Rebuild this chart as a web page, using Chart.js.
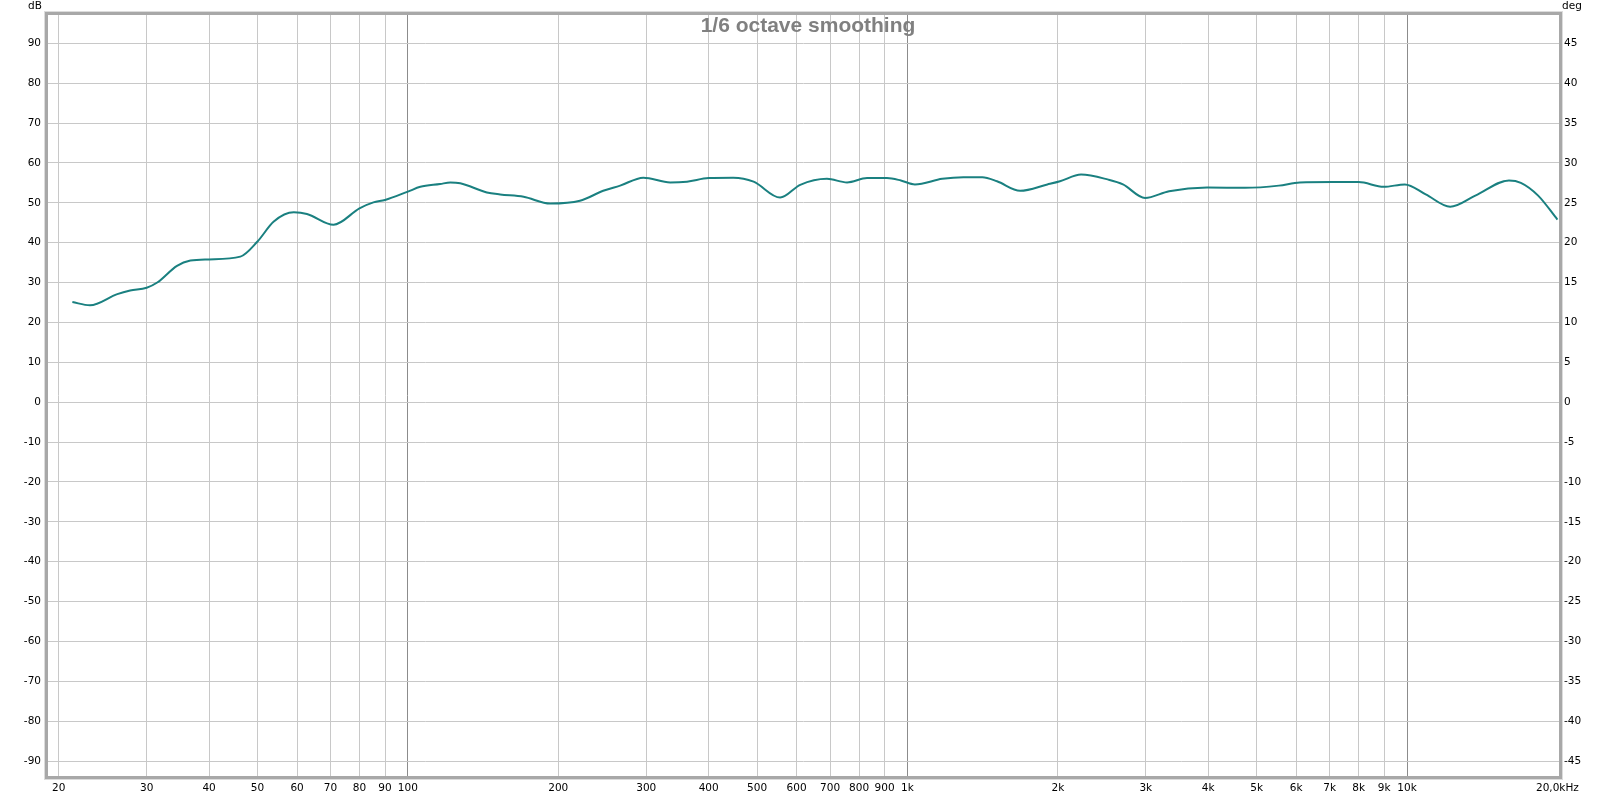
<!DOCTYPE html>
<html>
<head>
<meta charset="utf-8">
<script src="https://cdn.jsdelivr.net/npm/chart.js@4.4.1/dist/chart.umd.min.js"></script>
<style>
html,body{margin:0;padding:0;background:#fff;}
#wrap{width:1617px;height:798px;position:relative;}
</style>
</head>
<body>
<div id="wrap"><canvas id="c" width="1617" height="798"></canvas></div>
<script>
// Data (frequency in Hz, level in dB)
const freqs = [21.3,23.1,26.2,27.8,30,31.5,34.5,36.7,40,46.2,50,53.9,59.1,62.8,71,80,85.3,90,100,105.9,116,121.6,127.3,143.9,153,170.5,192.8,221,246,266,296,335,362,400,448,492,556,610,690,757,830,910,970,1035,1174,1294,1412,1511,1681,1906,2020,2226,2524,2700,2990,3340,3980,4740,5540,6100,7120,8000,8980,9900,10900,12200,13700,16000,16900,18300,20000];
const levels = [25.1,24.3,27.1,28.0,28.7,30.0,34.2,35.5,35.8,36.5,40.3,45.3,47.6,47.2,44.5,48.6,50.1,50.7,52.8,54.0,54.7,55.1,54.9,52.6,52.1,51.5,49.8,50.5,53.0,54.3,56.3,55.1,55.3,56.2,56.3,55.3,51.3,54.5,56.0,55.1,56.2,56.2,55.6,54.6,56.0,56.4,56.4,55.4,53.0,54.6,55.4,57.1,55.8,54.6,51.2,52.9,53.8,53.75,54.3,55.1,55.2,55.2,54.0,54.6,52.1,49.0,51.8,55.6,55.0,51.8,45.8];
const xTickValues = [20,30,40,50,60,70,80,90,100,200,300,400,500,600,700,800,900,1000,2000,3000,4000,5000,6000,7000,8000,9000,10000,20000];
const xTickLabels = ['20','30','40','50','60','70','80','90','100','200','300','400','500','600','700','800','900','1k','2k','3k','4k','5k','6k','7k','8k','9k','10k','20,0kHz'];
const dbTicks = [-90,-80,-70,-60,-50,-40,-30,-20,-10,0,10,20,30,40,50,60,70,80,90];
const degTicks = [-45,-40,-35,-30,-25,-20,-15,-10,-5,0,5,10,15,20,25,30,35,40,45];
const decades = [100,1000,10000];

const points = freqs.map((f,i)=>({x:f,y:levels[i]}));
const FONT = {family:'"DejaVu Sans", sans-serif', size:10.5};

const decor = {
  id:'decor',
  afterDraw(chart){
    const {ctx, chartArea:a} = chart;
    ctx.save();
    // frame
    ctx.strokeStyle = '#dcdcdc';
    ctx.lineWidth = 1;
    ctx.strokeRect(a.left-2.5, a.top-2.5, a.right-a.left+5, a.bottom-a.top+5);
    ctx.strokeStyle = '#a8a8a8';
    ctx.lineWidth = 3;
    ctx.strokeRect(a.left-0.5, a.top-0.5, a.right-a.left+1, a.bottom-a.top+1);
    // title
    ctx.fillStyle = '#808080';
    ctx.font = 'bold 21px "Liberation Sans", Arial, sans-serif';
    ctx.textAlign = 'center';
    ctx.textBaseline = 'middle';
    ctx.fillText('1/6 octave smoothing', 808, 26);
    // unit labels
    ctx.fillStyle = '#000';
    ctx.font = '10.5px "DejaVu Sans", sans-serif';
    ctx.fillText('dB', 35, 6);
    ctx.fillText('deg', 1572, 6);
    ctx.restore();
  }
};

new Chart(document.getElementById('c'), {
  type:'line',
  data:{datasets:[{
    data:points,
    borderColor:'#1a8080',
    borderWidth:2,
    pointRadius:0,
    fill:false,
    cubicInterpolationMode:'monotone'
  }]},
  options:{
    responsive:false,
    animation:false,
    layout:{padding:{top:14,left:0,right:0,bottom:0}},
    plugins:{legend:{display:false},tooltip:{enabled:false},title:{display:false}},
    scales:{
      x:{
        type:'logarithmic',
        min:18.95, max:20240,
        afterBuildTicks(s){ s.ticks = xTickValues.map(v=>({value:v})); },
        afterFit(s){ s.height = 21; },
        ticks:{autoSkip:false,maxRotation:0,minRotation:0,padding:5,color:'#000',font:FONT,
          callback:(v,i)=>xTickLabels[i]},
        grid:{drawTicks:false,lineWidth:1,
          color:(c)=> {
            const v = c.tick && c.tick.value;
            if (v === 20000) return 'rgba(0,0,0,0)';
            return decades.includes(v) ? '#8c8c8c' : '#c8c8c8';
          }},
        border:{display:false}
      },
      y:{
        position:'left',
        min:-94.0, max:97.34,
        afterBuildTicks(s){ s.ticks = dbTicks.map(v=>({value:v})); },
        afterFit(s){ s.width = 47; },
        ticks:{autoSkip:false,padding:6,color:'#000',font:FONT},
        grid:{drawTicks:false,color:'#c8c8c8',lineWidth:1},
        border:{display:false}
      },
      y2:{
        position:'right',
        min:-47.0, max:48.67,
        afterBuildTicks(s){ s.ticks = degTicks.map(v=>({value:v})); },
        afterFit(s){ s.width = 57; },
        ticks:{autoSkip:false,padding:4,color:'#000',font:FONT},
        grid:{display:false,drawTicks:false},
        border:{display:false}
      }
    }
  },
  plugins:[decor]
});
</script>
</body>
</html>
